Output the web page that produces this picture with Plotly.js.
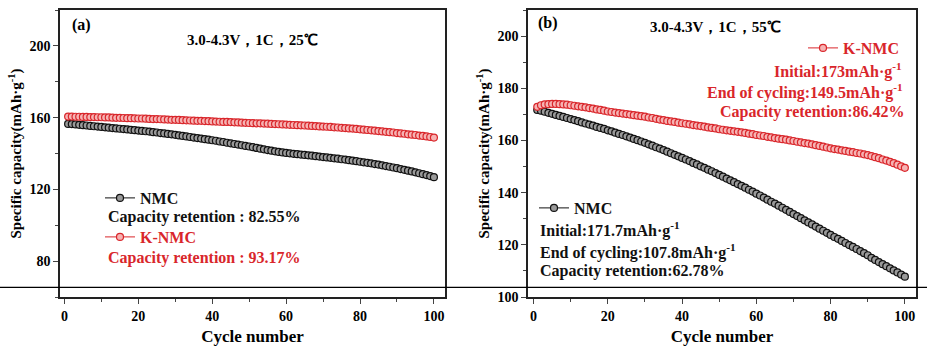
<!DOCTYPE html>
<html><head><meta charset="utf-8">
<script src="https://cdn.plot.ly/plotly-3.0.1.min.js"></script>
<style>html,body{margin:0;padding:0;background:#fff}#chart{width:927px;height:351px}</style>
</head><body><div id="chart"></div>
<script>
const cycles = [1,2,3,4,5,6,7,8,9,10,11,12,13,14,15,16,17,18,19,20,21,22,23,24,25,26,27,28,29,30,31,32,33,34,35,36,37,38,39,40,41,42,43,44,45,46,47,48,49,50,51,52,53,54,55,56,57,58,59,60,61,62,63,64,65,66,67,68,69,70,71,72,73,74,75,76,77,78,79,80,81,82,83,84,85,86,87,88,89,90,91,92,93,94,95,96,97,98,99,100];

const nmc25 = [156.5,156.4,156.2,156.0,155.8,155.6,155.4,155.2,155.0,154.8,
154.6,154.4,154.2,154.0,153.8,153.6,153.4,153.2,153.0,152.8,
152.6,152.4,152.2,151.9,151.7,151.4,151.2,150.9,150.7,150.4,
150.1,149.8,149.5,149.2,148.9,148.6,148.3,148.0,147.7,147.4,
147.1,146.7,146.4,146.0,145.7,145.3,145.0,144.6,144.2,143.9,
143.5,143.1,142.7,142.3,141.9,141.6,141.2,140.9,140.6,140.3,
140.1,139.8,139.6,139.4,139.2,139.0,138.8,138.5,138.3,138.0,
137.8,137.6,137.3,137.1,136.8,136.6,136.3,136.0,135.7,135.4,
135.1,134.8,134.5,134.1,133.8,133.4,133.0,132.6,132.2,131.8,
131.3,130.9,130.4,130.0,129.5,129.0,128.5,128.0,127.4,126.8];

const knmc25 = [160.6,160.6,160.5,160.5,160.4,160.4,160.3,160.3,160.2,160.2,
160.1,160.1,160.0,159.9,159.9,159.8,159.7,159.7,159.6,159.5,
159.5,159.4,159.3,159.2,159.2,159.1,159.0,158.9,158.8,158.8,
158.7,158.6,158.5,158.4,158.3,158.2,158.2,158.1,158.0,157.9,
157.8,157.7,157.6,157.6,157.5,157.4,157.3,157.2,157.1,157.0,
156.9,156.8,156.8,156.7,156.6,156.5,156.4,156.3,156.2,156.1,
156.0,155.9,155.8,155.7,155.6,155.5,155.4,155.3,155.1,155.0,
154.9,154.8,154.6,154.5,154.3,154.2,154.0,153.9,153.7,153.5,
153.3,153.1,152.9,152.7,152.5,152.3,152.1,151.9,151.7,151.4,
151.2,151.0,150.7,150.5,150.3,150.0,149.8,149.5,149.2,148.9];

const nmc55 = [171.7,171.4,171.0,170.6,170.2,169.8,169.4,169.0,168.6,168.2,
167.8,167.4,166.9,166.5,166.1,165.7,165.2,164.8,164.4,163.9,
163.5,163.0,162.5,162.1,161.6,161.1,160.6,160.1,159.6,159.1,
158.5,158.0,157.4,156.9,156.3,155.7,155.1,154.5,153.9,153.3,
152.7,152.1,151.4,150.8,150.1,149.5,148.8,148.2,147.5,146.8,
146.1,145.4,144.7,144.0,143.3,142.6,141.9,141.1,140.4,139.6,
138.9,138.1,137.3,136.5,135.8,135.0,134.2,133.4,132.6,131.8,
131.0,130.2,129.4,128.6,127.8,127.0,126.2,125.4,124.6,123.8,
123.0,122.3,121.5,120.7,119.9,119.2,118.4,117.6,116.8,116.0,
115.0,114.2,113.4,112.6,111.8,111.0,110.2,109.4,108.6,107.8];

const knmc55 = [172.9,173.5,173.8,173.9,174.0,174.0,173.9,173.8,173.7,173.5,
173.3,173.1,172.9,172.7,172.4,172.2,171.9,171.7,171.4,171.1,
170.9,170.7,170.5,170.3,170.1,169.9,169.7,169.5,169.3,169.1,
168.8,168.6,168.3,168.0,167.8,167.5,167.3,167.1,166.8,166.6,
166.4,166.2,165.9,165.7,165.5,165.3,165.0,164.8,164.6,164.3,
164.1,163.9,163.7,163.5,163.3,163.1,162.9,162.6,162.4,162.1,
161.9,161.7,161.4,161.2,160.9,160.7,160.5,160.3,160.0,159.8,
159.5,159.3,159.0,158.8,158.5,158.2,157.9,157.6,157.3,157.0,
156.7,156.5,156.2,156.0,155.7,155.5,155.2,155.0,154.7,154.4,
154.0,153.6,153.2,152.7,152.3,151.8,151.3,150.7,150.1,149.5];

const xTicks = [0,20,40,60,80,100];
const yTicksA = [80,120,160,200];
const yTicksB = [100,120,140,160,180,200];

const FONT = 'Liberation Serif';
const RED = '#d9262b';
const BLACK = '#111111';

function series(x, y, name, xa, ya, lg, col, fill) {
  return {x: x, y: y, name: name, xaxis: xa, yaxis: ya, legend: lg, type: 'scatter', mode: 'lines+markers',
    line: {color: col, width: 1},
    marker: {symbol: 'circle', size: 7, color: fill, line: {color: col, width: 1.2}},
    hoverinfo: 'skip'};
}

const traces = [
  series(cycles, nmc25, 'NMC', 'x', 'y', 'legend', BLACK, '#9a9a9a'),
  series(cycles, knmc25, 'K-NMC', 'x', 'y', 'legend2', RED, '#f6b3b3'),
  series(cycles, nmc55, 'NMC', 'x2', 'y2', 'legend4', BLACK, '#9a9a9a'),
  series(cycles, knmc55, 'K-NMC', 'x2', 'y2', 'legend3', RED, '#f6b3b3')
];

const tickFont = {family: FONT, size: 14, color: '#000', weight: 'bold'};
const titleFont = {family: FONT, size: 17, color: '#000', weight: 'bold'};
const ytitleFont = {family: FONT, size: 15, color: '#000', weight: 'bold'};

function xAxis(dom, rng, anchor) {
  return {domain: dom, range: rng, anchor: anchor, tickvals: xTicks, ticks: 'outside', ticklen: 5, tickwidth: 1.2,
    minor: {dtick: 10, tick0: 0, ticks: 'outside', ticklen: 3, tickwidth: 1.2},
    showline: true, mirror: true, linecolor: '#222', linewidth: 1.5, showgrid: false, zeroline: false,
    tickfont: tickFont, title: {text: 'Cycle number', font: titleFont, standoff: 8}};
}
function yAxis(dom, rng, anchor, tv, minorStep) {
  return {domain: dom, range: rng, anchor: anchor, tickvals: tv, ticks: 'outside', ticklen: 5, tickwidth: 1.2,
    minor: {dtick: minorStep, tick0: 0, ticks: 'outside', ticklen: 3, tickwidth: 1.2},
    showline: true, mirror: true, linecolor: '#222', linewidth: 1.5, showgrid: false, zeroline: false,
    tickfont: tickFont, title: {text: 'Specific capacity(mAh·g<sup>-1</sup>)', font: ytitleFont, standoff: 4}};
}

const H = 351, W = 927;
const py = v => 1 - v / H;
const px = v => v / W;
const yDom = [py(297), py(10)];

function legendAt(xpix, ypix, col) {
  return {x: px(xpix), y: py(ypix), xanchor: 'left', yanchor: 'middle', bgcolor: 'rgba(0,0,0,0)',
    borderwidth: 0, font: {family: FONT, size: 16, color: col, weight: 'bold'}, itemwidth: 30, tracegroupgap: 0};
}

function note(text, xpix, ypix, col, size, anchor) {
  return {text: text, xref: 'paper', yref: 'paper', x: px(xpix), y: py(ypix), xanchor: anchor || 'left', yanchor: 'middle',
    showarrow: false, font: {family: FONT, size: size, color: col, weight: 'bold'}};
}

const layout = {
  width: W, height: H, margin: {l: 0, r: 0, t: 0, b: 0},
  paper_bgcolor: '#fff', plot_bgcolor: '#fff', showlegend: true,
  font: {family: FONT},
  xaxis: xAxis([px(60), px(445)], [-1.2, 103], 'y'),
  yaxis: yAxis(yDom, [60, 220], 'x', yTicksA, 20),
  xaxis2: xAxis([px(528), px(916)], [-1.5, 103], 'y2'),
  yaxis2: yAxis(yDom, [100, 210], 'x2', yTicksB, 10),
  legend: legendAt(100, 198, BLACK),
  legend2: legendAt(100, 237, RED),
  legend3: legendAt(803, 48, RED),
  legend4: legendAt(534, 208, BLACK),
  annotations: [
    note('(a)', 70, 25, '#000', 16),
    note('3.0-4.3V，1C，25℃', 252, 40, '#000', 15, 'center'),
    note('Capacity retention : 82.55%', 106, 217, BLACK, 16),
    note('Capacity retention : 93.17%', 106, 258, RED, 16),
    note('(b)', 536, 23, '#000', 16),
    note('3.0-4.3V，1C，55℃', 715, 27, '#000', 15, 'center'),
    note('Initial:173mAh·g<sup>-1</sup>', 904, 70, RED, 16, 'right'),
    note('End of cycling:149.5mAh·g<sup>-1</sup>', 905, 91, RED, 16, 'right'),
    note('Capacity retention:86.42%', 907, 112, RED, 16, 'right'),
    note('Initial:171.7mAh·g<sup>-1</sup>', 538, 229, BLACK, 16),
    note('End of cycling:107.8mAh·g<sup>-1</sup>', 538, 251, BLACK, 16),
    note('Capacity retention:62.78%', 538, 271, BLACK, 16)
  ],
  shapes: [
    {type: 'line', xref: 'paper', yref: 'paper', x0: 0, x1: 1, y0: py(287.3), y1: py(287.3), line: {color: '#000', width: 1.2}, layer: 'above'}
  ]
};

Plotly.newPlot('chart', traces, layout, {displayModeBar: false});
</script>
</body></html>
